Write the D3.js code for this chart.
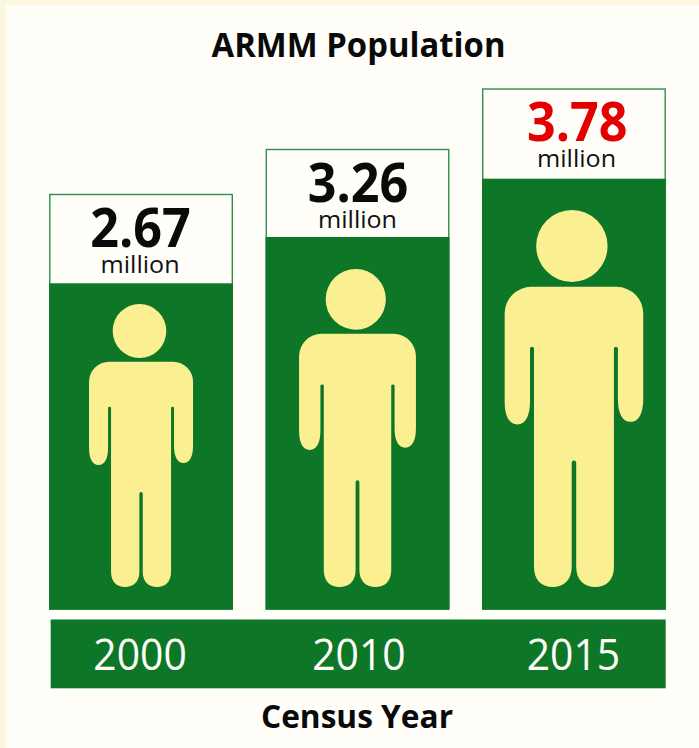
<!DOCTYPE html>
<html><head><meta charset="utf-8">
<script src="https://cdn.jsdelivr.net/npm/d3@7"></script>
<style>html,body{margin:0;padding:0;background:#fffef9}svg{display:block}text{font-family:"Open Sans",sans-serif}</style>
</head><body><svg id="c" width="699" height="748"></svg>
<script>
const years = ["2000","2010","2015"];
const populations = [2.67,3.26,3.78];
const valueLabels = ["2.67","3.26","3.78"];
const unitLabel = "million";
const titleText = "ARMM Population";
const axisTitle = "Census Year";
const highlightYear = "2015";

const W=699,H=748,baseY=609.3,green="#0d7727",cream="#fbf091";
const svg=d3.select("#c");
svg.append("rect").attr("width",W).attr("height",H).attr("fill","#fffef9");
svg.append("rect").attr("width",W).attr("height",5).attr("fill","#fdf6e0");
svg.append("rect").attr("width",6).attr("height",H).attr("fill","#fdf6e0");

const x=d3.scaleBand().domain(years).range([49.8,665.2]).paddingInner(34/216.7).paddingOuter(0);
const cx=d=>x(d)+x.bandwidth()/2;
// the source graphic is not drawn to a zero baseline, so these scales are piecewise
const yFrame=d3.scaleLinear().domain(populations).range([194.5,149.5,89]);
const yFill=d3.scaleLinear().domain(populations).range([283.3,237,178.7]);
const personH=d3.scaleLinear().domain(populations).range([283,318,377]);
// small optical offsets of the labels within each column
const valueDx=d3.scaleOrdinal().domain(years).range([-0.5,0.5,3.3]);
const unitDx=d3.scaleOrdinal().domain(years).range([-1,0,2.6]);
const yearDx=d3.scaleOrdinal().domain(years).range([-1,1.5,-0.5]);

// person icon in a 283-unit tall box, x centred on torso
const personPath="M-1.5,0 A26.8,27 0 1 1 -1.6,54 A26.8,27 0 1 1 -1.5,0 Z "+
"M-32,57.7 L32,57.7 A20,20 0 0 1 52,78 L52,142 C52,152 49,159 42.5,159 C36,159 33,152 33,142 L33,104 Q33,102.7 31.5,102.7 Q30,102.7 30,104 L30,268 C30,278 24,283 16,283 C8,283 1.7,278 1.7,268 L1.7,190 Q1.7,188 0,188 Q-1.7,188 -1.7,190 L-1.7,268 C-1.7,278 -8,283 -16,283 C-24,283 -30,278 -30,268 L-30,104 Q-30,102.7 -31.5,102.7 Q-33,102.7 -33,104 L-33,144 C-33,154 -36,161 -42.5,161 C-49,161 -52,154 -52,144 L-52,78 A20,20 0 0 1 -32,57.7 Z";

const g=svg.selectAll("g.col").data(years).join("g").attr("class","col");
g.append("rect").attr("x",d=>x(d)).attr("y",(d,i)=>yFrame(populations[i])).attr("width",x.bandwidth())
 .attr("height",(d,i)=>baseY-yFrame(populations[i])).attr("fill","#fffef9").attr("stroke","#2f8f48").attr("stroke-width",1.4);
g.append("rect").attr("x",d=>x(d)-.7).attr("y",(d,i)=>yFill(populations[i])).attr("width",x.bandwidth()+1.4)
 .attr("height",(d,i)=>baseY-yFill(populations[i])).attr("fill",green);
g.append("path").attr("d",personPath).attr("fill",cream)
 .attr("transform",(d,i)=>{const s=personH(populations[i])/283;
   return `translate(${cx(d)},${587-personH(populations[i])}) scale(${s})`;});
g.append("text").text((d,i)=>valueLabels[i]).attr("x",d=>cx(d)+valueDx(d)).attr("y",(d,i)=>yFrame(populations[i])+52.4)
 .attr("text-anchor","middle").attr("font-size",53).attr("font-weight",700)
 .attr("textLength",100.5).attr("lengthAdjust","spacingAndGlyphs")
 .attr("fill",d=>d===highlightYear?"#e30000":"#0a0a0a");
g.append("text").text(unitLabel).attr("x",d=>cx(d)+unitDx(d)).attr("y",(d,i)=>yFrame(populations[i])+78.4)
 .attr("text-anchor","middle").attr("font-size",24).attr("fill","#111")
 .attr("textLength",79).attr("lengthAdjust","spacingAndGlyphs");

svg.append("rect").attr("x",50.7).attr("y",619.5).attr("width",615).attr("height",68.8).attr("fill",green);
svg.selectAll("text.yr").data(years).join("text").attr("class","yr").text(d=>d)
 .attr("x",d=>cx(d)+yearDx(d)).attr("y",669.7).attr("text-anchor","middle")
 .attr("font-size",43.5).attr("fill","#fffef9")
 .attr("textLength",93.5).attr("lengthAdjust","spacingAndGlyphs");
svg.append("text").text(titleText).attr("x",358.5).attr("y",57).attr("text-anchor","middle")
 .attr("font-size",34).attr("font-weight",700).attr("fill","#0a0a0a")
 .attr("textLength",294).attr("lengthAdjust","spacingAndGlyphs");
svg.append("text").text(axisTitle).attr("x",357).attr("y",728).attr("text-anchor","middle")
 .attr("font-size",33).attr("font-weight",700).attr("fill","#0a0a0a")
 .attr("textLength",192).attr("lengthAdjust","spacingAndGlyphs");
</script></body></html>
